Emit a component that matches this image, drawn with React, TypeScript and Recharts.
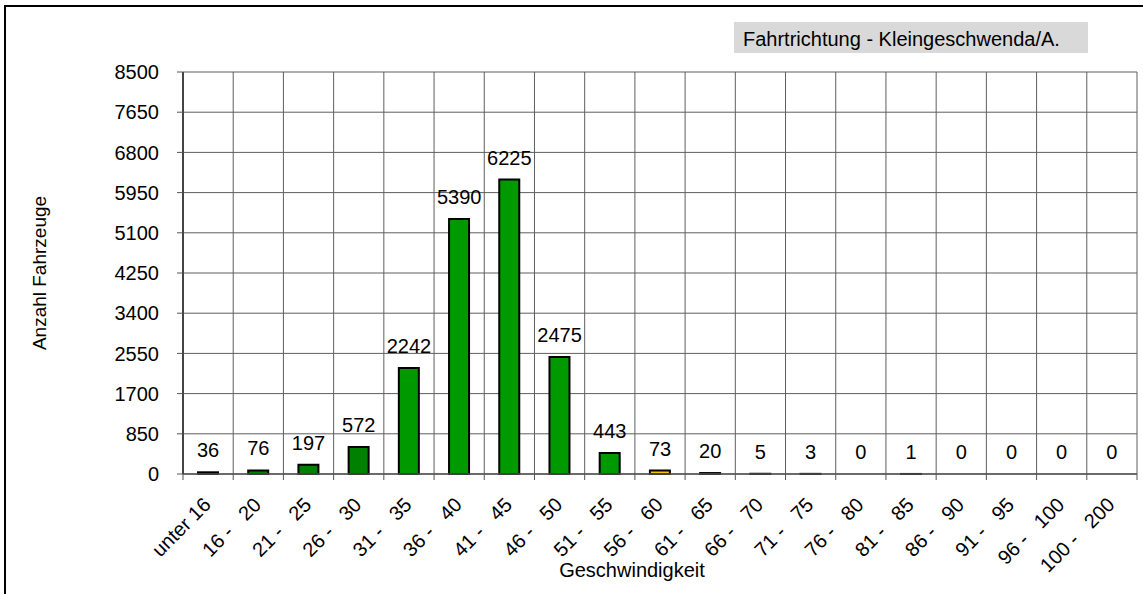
import { ComposedChart, Bar, Line, XAxis, YAxis, CartesianGrid, Cell, LabelList } from 'recharts';

const categories = [
  'unter 16', '16 -   20', '21 -   25', '26 -   30', '31 -   35', '36 -   40', '41 -   45',
  '46 -   50', '51 -   55', '56 -   60', '61 -   65', '66 -   70', '71 -   75', '76 -   80',
  '81 -   85', '86 -   90', '91 -   95', '96 -   100', '100 -   200',
];
const counts = [36, 76, 197, 572, 2242, 5390, 6225, 2475, 443, 73, 20, 5, 3, 0, 1, 0, 0, 0, 0];
const yTicks = [0, 850, 1700, 2550, 3400, 4250, 5100, 5950, 6800, 7650, 8500];

const barColors = [
  '#009900', '#008000', '#008000', '#008000', '#009900', '#009900', '#009900',
  '#009900', '#009900', '#FFC000', '#FF0000', '#FF0000', '#FF0000', '#FF0000',
  '#FF0000', '#FF0000', '#FF0000', '#FF0000', '#FF0000',
];

const chartData = categories.map((name, i) => ({ name, value: counts[i] }));

const FONT = '"Liberation Sans", Arial, sans-serif';

const XTick = (props: any) => {
  const { x, y, payload, width, visibleTicksCount, index } = props;
  const band = (width || 954) / (visibleTicksCount || categories.length);
  const isLast = index === categories.length - 1;
  return (
    <g>
      <line x1={x - band / 2} x2={x - band / 2} y1={y} y2={y + 6} stroke="#555" />
      {isLast && <line x1={x + band / 2} x2={x + band / 2} y1={y} y2={y + 6} stroke="#555" />}
      <text
        x={x + 4}
        y={y + 32}
        transform={`rotate(-45 ${x + 4} ${y + 32})`}
        textAnchor="end"
        fontSize={20}
        fontFamily={FONT}
        fill="#000"
      >
        {String(payload.value).replace(/ /g, '\u00A0')}
      </text>
    </g>
  );
};

const App = () => {
  return (
    <div style={{ position: 'absolute', left: 0, top: 0, width: 1143, height: 594, overflow: 'hidden', background: '#fff', fontFamily: FONT }}>
      <div style={{ position: 'absolute', left: 4, top: 5, width: 1300, height: 700, border: '2px solid #000' }} />
      <ComposedChart
        width={1143}
        height={594}
        data={chartData}
        margin={{ top: 72, right: 6, bottom: 0, left: 0 }}
        barCategoryGap={0}
        style={{ position: 'absolute', left: 0, top: 0 }}
      >
        <CartesianGrid
          stroke="#5e5e5e"
          verticalCoordinatesGenerator={({ offset }: any) =>
            Array.from({ length: categories.length + 1 }, (_, i) => offset.left + (i * offset.width) / categories.length)
          }
        />
        <XAxis
          dataKey="name"
          interval={0}
          height={120}
          tickLine={false}
          tickSize={0}
          tickMargin={0}
          axisLine={{ stroke: '#555', strokeWidth: 1.5 }}
          tick={<XTick />}
        />
        <YAxis
          width={183}
          domain={[0, 8500]}
          ticks={yTicks}
          interval={0}
          tickSize={6}
          tickMargin={18}
          axisLine={{ stroke: '#444', strokeWidth: 2 }}
          tickLine={{ stroke: '#555' }}
          tick={{ fontSize: 20, fill: '#000', fontFamily: FONT }}
        />
        <Bar dataKey="value" barSize={20} stroke="#000" strokeWidth={2} isAnimationActive={false}>
          {chartData.map((d, i) => (
            <Cell key={d.name} fill={barColors[i]} />
          ))}
        </Bar>
        <Line dataKey="value" stroke="none" dot={false} activeDot={false} legendType="none" isAnimationActive={false}>
          <LabelList dataKey="value" position="top" offset={15} fontSize={20} fill="#000" fontFamily={FONT} />
        </Line>
      </ComposedChart>
      <div
        style={{
          position: 'absolute', left: 734, top: 22, width: 354, height: 31, background: '#d9d9d9',
          boxSizing: 'border-box', paddingLeft: 9, paddingTop: 2, lineHeight: '31px', fontSize: 20, color: '#000', whiteSpace: 'nowrap',
        }}
      >
        Fahrtrichtung - Kleingeschwenda/A.
      </div>
      <div
        style={{
          position: 'absolute', left: 40, top: 273, transform: 'translate(-50%, -50%) rotate(-90deg)',
          fontSize: 19, lineHeight: '20px', whiteSpace: 'nowrap', color: '#000',
        }}
      >
        Anzahl Fahrzeuge
      </div>
      <div
        style={{
          position: 'absolute', left: 632, top: 560, transform: 'translateX(-50%)',
          fontSize: 20, lineHeight: '20px', whiteSpace: 'nowrap', color: '#000',
        }}
      >
        Geschwindigkeit
      </div>
    </div>
  );
};

export default App;
